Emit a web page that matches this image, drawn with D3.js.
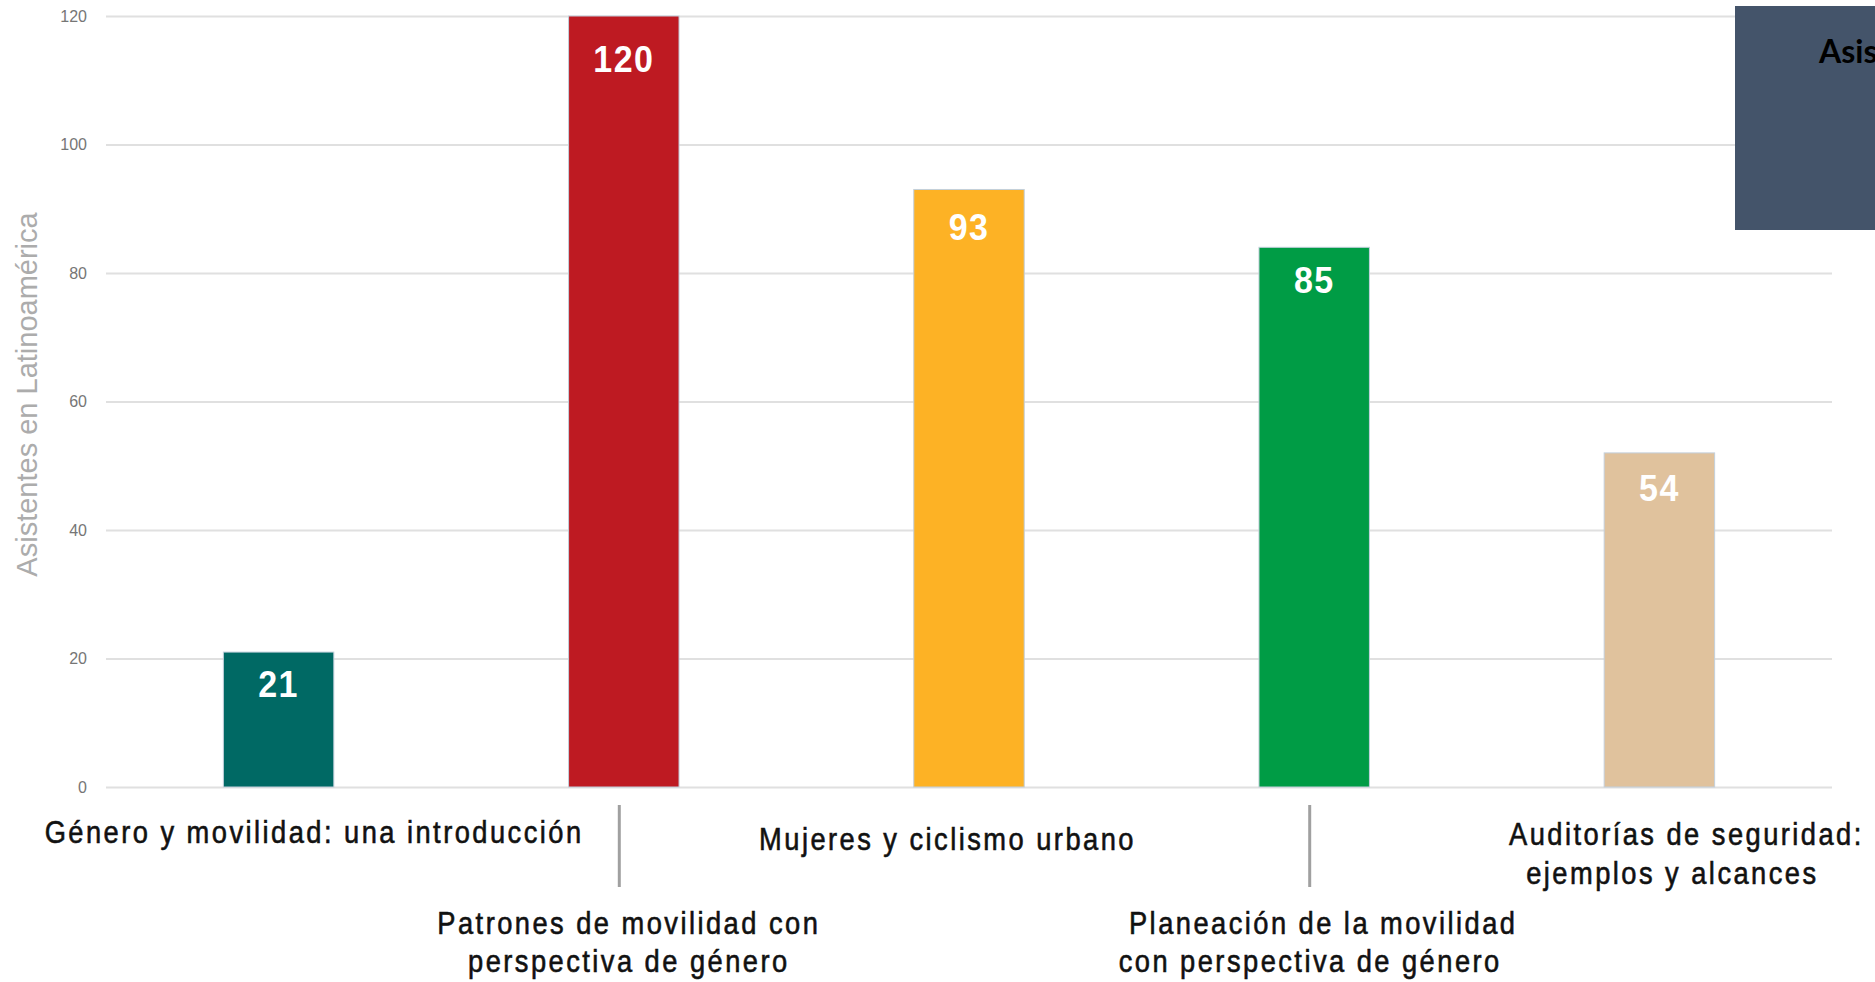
<!DOCTYPE html>
<html>
<head>
<meta charset="utf-8">
<script src="https://cdn.jsdelivr.net/npm/d3@7"></script>
<style>
  html, body { margin: 0; padding: 0; background: #ffffff; overflow: hidden; }
  svg { display: block; }
</style>
</head>
<body>
<svg id="chart" width="1875" height="982"></svg>
<script>
// ---- data ----
const categories = [
  ["Género y movilidad: una introducción"],
  ["Patrones de movilidad con", "perspectiva de género"],
  ["Mujeres y ciclismo urbano"],
  ["Planeación de la movilidad", "con perspectiva de género"],
  ["Auditorías de seguridad:", "ejemplos y alcances"]
];
const barValues = [21, 120, 93, 84, 52];
const valueLabels = ["21", "120", "93", "85", "54"];
const yTicks = [0, 20, 40, 60, 80, 100, 120];
const yTitle = "Asistentes en Latinoamérica";
const sideTitle = "Asistentes";
const barColors = ["#006964", "#be1a22", "#fdb225", "#009c45", "#e0c29d"];

// ---- layout ----
const W = 1875, H = 982;
const plot = { left: 106, right: 1832, top: 16, bottom: 787 };
const svg = d3.select("#chart");
const keys = categories.map((c, i) => String(i));

const x = d3.scaleBand().domain(keys).range([plot.left, plot.right])
  .paddingInner(0.68).paddingOuter(0.34);
const y = d3.scaleLinear().domain([0, 120]).range([plot.bottom, plot.top]);
const color = d3.scaleOrdinal().domain(keys).range(barColors);

// gridlines
const yAxis = d3.axisLeft(y).tickValues(yTicks).tickSize(-(plot.right - plot.left)).tickPadding(19);
const gy = svg.append("g").attr("transform", `translate(${plot.left},0)`).call(yAxis);
gy.select(".domain").remove();
gy.selectAll(".tick line").attr("stroke", "#e0e0e0").attr("stroke-width", 2);
gy.selectAll(".tick text")
  .attr("font-family", "'Liberation Sans', Arial, sans-serif")
  .attr("font-size", 16)
  .attr("fill", "#767676");

// y title
svg.append("text")
  .attr("transform", `translate(37, ${(212 + 577) / 2}) rotate(-90)`)
  .attr("text-anchor", "middle")
  .attr("font-family", "'Liberation Sans', Arial, sans-serif")
  .attr("font-size", 29)
  .attr("fill", "#acacac")
  .text(yTitle);

// bars
svg.append("g").selectAll("rect").data(keys).join("rect")
  .attr("x", k => x(k))
  .attr("y", (k, i) => y(barValues[i]))
  .attr("width", x.bandwidth())
  .attr("height", (k, i) => y(0) - y(barValues[i]))
  .attr("fill", k => color(k))
  .attr("stroke", "#c3d0dc")
  .attr("stroke-width", 1);

// value labels
const labelDrop = [45, 56, 51, 46, 48];
svg.append("g").selectAll("g").data(keys).join("g")
  .attr("transform", (k, i) => `translate(${x(k) + x.bandwidth() / 2},${y(barValues[i]) + labelDrop[i]}) scale(0.92,1)`)
  .append("text")
  .attr("text-anchor", "middle")
  .attr("font-family", "'Liberation Sans', Arial, sans-serif")
  .attr("font-weight", "bold")
  .attr("font-size", 37)
  .attr("letter-spacing", 1.5)
  .attr("fill", "#ffffff")
  .text((k, i) => valueLabels[i]);

// category labels (staggered)
const labelLayout = [
  { dx: [35.5], base: [843] },
  { dx: [5, 5], base: [934, 972] },
  { dx: [-21.5], base: [850] },
  { dx: [9, -4], base: [934, 972] },
  { dx: [27, 13], base: [845, 884] }
];
const gl = svg.append("g");
keys.forEach((k, i) => {
  const cx = x(k) + x.bandwidth() / 2;
  categories[i].forEach((line, j) => {
    gl.append("g")
      .attr("transform", `translate(${cx + labelLayout[i].dx[j]},${labelLayout[i].base[j]}) scale(0.88,1)`)
      .append("text")
      .attr("text-anchor", "middle")
      .attr("font-family", "'Liberation Sans', Arial, sans-serif")
      .attr("font-size", 31)
      .attr("letter-spacing", 2.8)
      .attr("fill", "#111111")
      .attr("stroke", "#111111")
      .attr("stroke-width", 0.6)
      .text(line);
  });
});

// separators under categories 2 and 4
svg.append("g").selectAll("line").data([keys[1], keys[3]]).join("line")
  .attr("x1", k => x(k) + x.bandwidth() / 2 - 4.5)
  .attr("x2", k => x(k) + x.bandwidth() / 2 - 4.5)
  .attr("y1", 805).attr("y2", 887)
  .attr("stroke", "#a0a0a0")
  .attr("stroke-width", 3);

// dark box at the top right (cut by the page edge)
svg.append("rect")
  .attr("x", 1735).attr("y", 6).attr("width", W - 1735).attr("height", 224)
  .attr("fill", "#44546a");
svg.append("text")
  .attr("x", 1819).attr("y", 63)
  .attr("font-family", "Lato, 'Liberation Sans', sans-serif")
  .attr("font-weight", "bold")
  .attr("font-size", 32)
  .attr("fill", "#000000")
  .text(sideTitle);
</script>
</body>
</html>
